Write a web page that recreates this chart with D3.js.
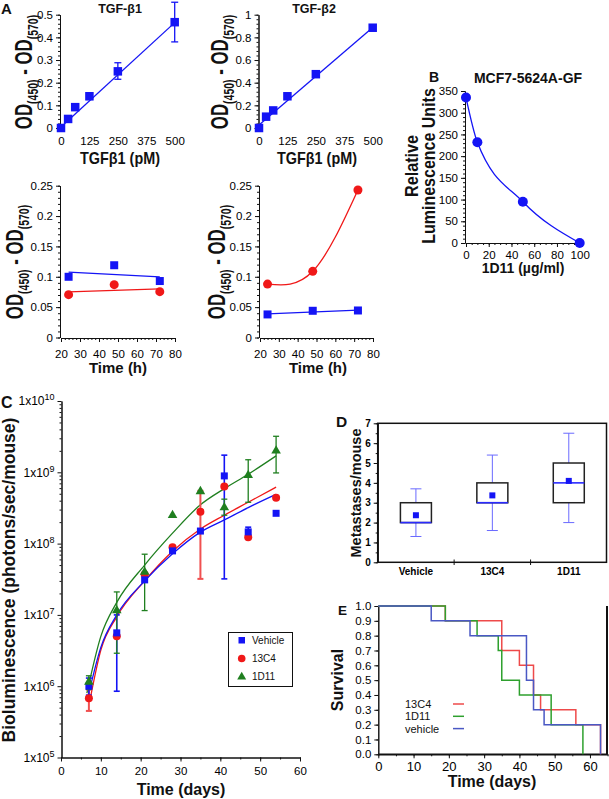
<!DOCTYPE html>
<html>
<head>
<meta charset="utf-8">
<script src="https://cdn.jsdelivr.net/npm/d3@7"></script>
<style>
body { margin: 0; background: #fff; }
text { font-family: "Liberation Sans", Arial, Helvetica, sans-serif; }
</style>
</head>
<body>
<div id="fig"></div>
<script>
// ---- panel A, standard curves
var tgfConc = [0, 31.25, 62.5, 125, 250, 500];
var tgfB1 = [0, 0.04, 0.092, 0.14, 0.25, 0.467];
var tgfB1Err = [[125, 0.126, 0.155], [250, 0.215, 0.288], [500, 0.38, 0.555]];
var tgfB1Fit = [[0, 0.004], [500, 0.465]];
var tgfB2 = [0, 0.1, 0.155, 0.28, 0.475, 0.885];
var tgfB2Fit = [[0, 0.026], [500, 0.888]];
var concTicks = [0, 125, 250, 375, 500];

// ---- panel A, time course (blue = squares, red = circles)
var hours = [24, 48, 72];
var leftBlue = [0.1, 0.119, 0.093];
var leftBlueFit = [[24, 0.1077], [72, 0.1]];
var leftRed = [0.0705, 0.087, 0.0755];
var leftRedFit = [[24, 0.075], [72, 0.08]];
var rightBlue = [0.038, 0.044, 0.0445];
var rightBlueFit = [[24, 0.039], [72, 0.045]];
var rightRed = [0.088, 0.109, 0.243];
var hourTicks = [20, 30, 40, 50, 60, 70, 80];
var odTicks = [0, 0.05, 0.1, 0.15, 0.2, 0.25];

// ---- panel B
var dose1D11 = [0, 10, 50, 100];
var rlu = [335, 232, 95, 0];

// ---- panel C
var days = [7, 14, 21, 28, 35, 41, 47, 54];
var vehicleBL = [1.0e6, 5.6e6, 3.1e7, 7.9e7, 1.5e8, 8.9e8, 1.46e8, 2.66e8];
var c13C4BL = [6.8e5, 5.0e6, 3.7e7, 8.9e7, 2.8e8, 6.3e8, 1.23e8, 4.4e8];
var d1D11BL = [1.15e6, 1.15e7, 4.0e7, 2.5e8, 5.4e8, 3.2e8, 9.1e8, 2.0e9];
var vehicleErr = [[7, 7.5e5, 1.3e6], [14, 8.5e5, 1.0e7], [41, 3.2e7, 1.74e9], [47, 1.3e8, 1.7e8]];
var c13C4Err = [[7, 4.5e5, 9e5], [35, 3.2e7, 5.5e8]];
var d1D11Err = [[7, 9e5, 1.4e6], [14, 2.9e6, 2.1e7], [21, 1.15e7, 7.1e7], [41, 2.5e8, 4.2e8], [47, 3.8e8, 1.5e9], [54, 9.8e8, 3.2e9]];
var vehicleFit = [[7, 8e5], [10, 3.5e6], [14, 1.0e7], [21, 3.0e7], [28, 7.2e7], [35, 1.45e8], [41, 2.15e8], [47, 3.2e8], [54, 4.9e8]];
var c13C4Fit = [[7.3, 6.5e5], [10, 3.2e6], [14, 9.4e6], [21, 3.0e7], [28, 7.8e7], [35, 1.6e8], [41, 2.5e8], [47, 3.8e8], [54, 6.2e8]];
var d1D11Fit = [[6.5, 8e5], [10, 5e6], [14, 1.5e7], [21, 5.0e7], [28, 1.4e8], [35, 3.5e8], [41, 5.9e8], [47, 9.4e8], [54, 1.7e9]];
var decadeTicks = [1e5, 1e6, 1e7, 1e8, 1e9, 1e10];

// ---- panel D
var groups = ["Vehicle", "13C4", "1D11"];
var whiskLow = [1.3, 1.6, 2];
var whiskHigh = [3.7, 5.4, 6.5];
var boxLow = [2, 3, 3];
var boxHigh = [3, 4, 5];
var medians = [2, 3, 4];
var means = [2.37, 3.37, 4.1];

// ---- panel E (day, survival)
var survVehicle = [[0, 1], [15, 0.9], [26, 0.8], [42, 0.5], [44, 0.3], [47, 0.2], [63, 0]];
var surv13C4 = [[0, 1], [19, 0.9], [35, 0.7], [40, 0.6], [44, 0.4], [46, 0.3], [56, 0.2], [63, 0]];
var surv1D11 = [[0, 1], [19, 0.9], [28, 0.8], [34, 0.7], [35, 0.5], [40, 0.4], [49, 0.2], [58, 0]];
var survLegend = ["13C4", "1D11", "vehicle"];

var BLUE = "#1414f5", RED = "#f01818", GREEN = "#1f7f1f";

var svg = d3.select("#fig").append("svg")
    .attr("width", 609)
    .attr("height", 799);

function styleAxis(g, size, bold) {
    g.attr("font-family", "'Liberation Sans', Arial, sans-serif")
     .attr("font-size", size)
     .attr("font-weight", bold ? "bold" : "normal");
    g.selectAll("path, line").attr("stroke", "#111");
}

// y axis with small minor ticks
function yAxis(x0, y, major, minor, fmt, size, bold) {
    svg.append("g").attr("transform", "translate(" + x0 + ",0)")
        .call(d3.axisLeft(y).tickValues(minor).tickSize(2).tickSizeOuter(0).tickFormat(""))
        .call(styleAxis, size);
    var g = svg.append("g").attr("transform", "translate(" + x0 + ",0)")
        .call(d3.axisLeft(y).tickValues(major).tickSize(4).tickSizeOuter(0).tickFormat(fmt).tickPadding(3));
    styleAxis(g, size, bold);
    return g;
}

function xAxis(y0, x, major, minor, pad, size, showLine) {
    if (minor) {
        svg.append("g").attr("transform", "translate(0," + y0 + ")")
            .call(d3.axisBottom(x).tickValues(minor).tickSize(2).tickSizeOuter(0).tickFormat(""))
            .call(styleAxis, size);
    }
    var g = svg.append("g").attr("transform", "translate(0," + y0 + ")")
        .call(d3.axisBottom(x).tickValues(major).tickSize(showLine ? 4 : 0).tickSizeOuter(0).tickPadding(pad));
    styleAxis(g, size);
    if (!showLine) g.select(".domain").remove();
    return g;
}

function txt(x, y, s, size, opts) {
    opts = opts || {};
    var t = svg.append("text")
        .attr("transform", "translate(" + x + "," + y + ")" + (opts.rot ? " rotate(-90)" : "") + (opts.sx ? " scale(" + opts.sx + ",1)" : ""))
        .attr("text-anchor", opts.anchor || "middle")
        .attr("font-size", size)
        .attr("font-weight", opts.normal ? "normal" : "bold")
        .attr("fill", "#111")
        .text(s);
    return t;
}

function odLabel(x, y) {
    var t = svg.append("text")
        .attr("transform", "translate(" + x + "," + y + ") rotate(-90) scale(0.7,1)")
        .attr("text-anchor", "middle")
        .attr("font-weight", "bold")
        .attr("font-size", 24)
        .attr("fill", "#111");
    t.append("tspan").text("OD");
    t.append("tspan").attr("font-size", 15).attr("dy", 6).text("(450)");
    t.append("tspan").attr("dy", -6).text(" - OD");
    t.append("tspan").attr("font-size", 15).attr("dy", 6).text("(570)");
}

function squares(xs, ys, x, y, size, color) {
    svg.append("g").selectAll("rect")
        .data(xs)
        .enter()
        .append("rect")
        .attr("x", function(d) { return x(d) - size / 2; })
        .attr("y", function(d, i) { return y(ys[i]) - size / 2; })
        .attr("width", size)
        .attr("height", size)
        .attr("fill", color);
}

function circles(xs, ys, x, y, r, color) {
    svg.append("g").selectAll("circle")
        .data(xs)
        .enter()
        .append("circle")
        .attr("cx", function(d) { return x(d); })
        .attr("cy", function(d, i) { return y(ys[i]); })
        .attr("r", r)
        .attr("fill", color);
}

function errBars(err, x, y, color, cap, w) {
    var g = svg.append("g").attr("stroke", color).attr("stroke-width", w || 1.3);
    err.forEach(function(e) {
        g.append("line").attr("x1", x(e[0])).attr("x2", x(e[0])).attr("y1", y(e[1])).attr("y2", y(e[2]));
        g.append("line").attr("x1", x(e[0]) - cap).attr("x2", x(e[0]) + cap).attr("y1", y(e[1])).attr("y2", y(e[1]));
        g.append("line").attr("x1", x(e[0]) - cap).attr("x2", x(e[0]) + cap).attr("y1", y(e[2])).attr("y2", y(e[2]));
    });
}

function path(pts, x, y, color, curve, w) {
    svg.append("path")
        .datum(pts)
        .attr("fill", "none")
        .attr("stroke", color)
        .attr("stroke-width", w || 1.3)
        .attr("d", d3.line().curve(curve || d3.curveLinear)
            .x(function(d) { return x(d[0]); })
            .y(function(d) { return y(d[1]); }));
}

// ================= A : standard curves =================
txt(1, 14, "A", 15, {anchor: "start"});

var xA1 = d3.scaleLinear().domain([0, 500]).range([61, 174.7]);
var yA1 = d3.scaleLinear().domain([0, 0.5]).range([128, 14.7]);
yAxis(60, yA1, [0, 0.1, 0.2, 0.3, 0.4, 0.5], d3.range(0, 0.501, 0.02), function(d) { return d === 0 ? "0" : d3.format(".1f")(d); }, 11.5);
svg.append("line").attr("x1", 60).attr("x2", 60).attr("y1", 128).attr("y2", 132).attr("stroke", "#111");
xAxis(137, xA1, concTicks, null, 0, 11.5, false);
path(tgfB1Fit, xA1, yA1, BLUE);
errBars(tgfB1Err, xA1, yA1, BLUE, 3.5);
squares(tgfConc, tgfB1, xA1, yA1, 8.5, BLUE);
txt(120, 13, "TGF-\u03b21", 12.5);
txt(120, 164, "TGF\u03b21 (pM)", 16, {sx: 0.9});
odLabel(32, 72);

var xA2 = d3.scaleLinear().domain([0, 500]).range([259, 372.7]);
var yA2 = d3.scaleLinear().domain([0, 1]).range([128, 14.7]);
yAxis(258.5, yA2, [0, 0.2, 0.4, 0.6, 0.8, 1], d3.range(0, 1.001, 0.04), function(d) { return d === 0 || d === 1 ? d3.format("d")(d) : d3.format(".1f")(d); }, 11.5);
svg.append("line").attr("x1", 258.5).attr("x2", 258.5).attr("y1", 128).attr("y2", 132).attr("stroke", "#111");
xAxis(137, xA2, concTicks, null, 0, 11.5, false);
path(tgfB2Fit, xA2, yA2, BLUE);
squares(tgfConc, tgfB2, xA2, yA2, 8.5, BLUE);
txt(314, 13, "TGF-\u03b22", 12.5);
txt(317, 164, "TGF\u03b21 (pM)", 16, {sx: 0.9});
odLabel(228, 72);

// ================= A : time course =================
function fmtOD(d) { return d === 0 ? "0" : String(d); }

var xA3 = d3.scaleLinear().domain([20, 80]).range([61, 175]);
var yA3 = d3.scaleLinear().domain([0, 0.25]).range([337.5, 185.7]);
yAxis(60, yA3, odTicks, d3.range(0, 0.2501, 0.01), fmtOD, 11.5);
xAxis(338, xA3, hourTicks, d3.range(20, 80.1, 2), 8, 11.5, true);
path(leftBlueFit, xA3, yA3, BLUE);
path(leftRedFit, xA3, yA3, RED);
squares(hours, leftBlue, xA3, yA3, 8, BLUE);
circles(hours, leftRed, xA3, yA3, 4.5, RED);
txt(118, 373, "Time (h)", 15);
odLabel(23, 262);

var xA4 = d3.scaleLinear().domain([20, 80]).range([260, 373]);
yAxis(259, yA3, odTicks, d3.range(0, 0.2501, 0.01), fmtOD, 11.5);
xAxis(338, xA4, hourTicks, d3.range(20, 80.1, 2), 8, 11.5, true);
path(rightBlueFit, xA4, yA3, BLUE);
path(hours.map(function(h, i) { return [h, rightRed[i]]; }), xA4, yA3, RED, d3.curveNatural);
squares(hours, rightBlue, xA4, yA3, 8, BLUE);
circles(hours, rightRed, xA4, yA3, 4.5, RED);
txt(318, 373, "Time (h)", 15);
odLabel(225, 262);

// ================= B =================
txt(429, 82, "B", 14, {anchor: "start"});
var xB = d3.scaleLinear().domain([0, 100]).range([466, 579.7]);
var yB = d3.scaleLinear().domain([0, 350]).range([243, 91]);
yAxis(465, yB, d3.range(0, 351, 50), d3.range(0, 351, 10), d3.format("d"), 11.5);
xAxis(243, xB, [0, 20, 40, 60, 80, 100], d3.range(0, 101, 5), 4, 11.5, true);
path(dose1D11.map(function(d, i) { return [d, rlu[i]]; }), xB, yB, BLUE, d3.curveMonotoneX);
circles(dose1D11, rlu, xB, yB, 5, BLUE);
txt(528, 83, "MCF7-5624A-GF", 14);
txt(418, 166, "Relative", 18, {rot: true, sx: 0.9});
txt(435, 166, "Luminescence Units", 18, {rot: true, sx: 0.89});
txt(523, 273, "1D11 (\u00b5g/ml)", 14);

// ================= C =================
txt(1, 408, "C", 16, {anchor: "start"});
var xC = d3.scaleLinear().domain([0, 60]).range([61, 300]);
var yC = d3.scaleLog().domain([1e5, 1e10]).range([757.5, 401]);
var minorC = [];
decadeTicks.slice(0, 5).forEach(function(p) { for (var k = 2; k <= 9; k++) minorC.push(p * k); });
var gyC = yAxis(61.5, yC, decadeTicks, minorC, function() { return ""; }, 12);
gyC.selectAll(".tick text").each(function(d) {
    var t = d3.select(this).text("1x10");
    t.append("tspan").attr("dy", -5).attr("font-size", 9).text(Math.round(Math.log10(d)));
});
xAxis(757.5, xC, d3.range(0, 61, 10), d3.range(0, 61, 5), 5, 11.5, true);
path(d1D11Fit, xC, yC, GREEN, d3.curveMonotoneX);
path(c13C4Fit, xC, yC, RED, d3.curveMonotoneX);
path(vehicleFit, xC, yC, BLUE, d3.curveMonotoneX);
errBars(c13C4Err, xC, yC, "#f05050", 3, 2);
errBars(vehicleErr, xC, yC, BLUE, 3, 1.6);
errBars(d1D11Err, xC, yC, GREEN, 3, 1.3);
circles(days, c13C4BL, xC, yC, 4, RED);
squares(days, vehicleBL, xC, yC, 7, BLUE);
svg.append("g").selectAll("path")
    .data(days)
    .enter()
    .append("path")
    .attr("transform", function(d, i) { return "translate(" + xC(d) + "," + yC(d1D11BL[i]) + ")"; })
    .attr("d", d3.symbol().type(d3.symbolTriangle).size(40))
    .attr("fill", GREEN);
txt(15, 580, "Bioluminescence (photons/sec/mouse)", 17.5, {rot: true});
txt(181, 795, "Time (days)", 16);

// legend C
svg.append("rect").attr("x", 228.5).attr("y", 632.5).attr("width", 64).attr("height", 54)
    .attr("fill", "#fff").attr("stroke", "#111").attr("stroke-width", 1);
svg.append("rect").attr("x", 238.5).attr("y", 637).attr("width", 6.5).attr("height", 6.5).attr("fill", BLUE);
svg.append("circle").attr("cx", 241.7).attr("cy", 658.5).attr("r", 3.8).attr("fill", RED);
svg.append("path").attr("transform", "translate(241.7,677)").attr("d", d3.symbol().type(d3.symbolTriangle).size(35)).attr("fill", GREEN);
txt(252, 644, "Vehicle", 10, {anchor: "start", normal: true});
txt(252, 662, "13C4", 10, {anchor: "start", normal: true});
txt(252, 680, "1D11", 10, {anchor: "start", normal: true});

// ================= D =================
txt(336, 427, "D", 15.5, {anchor: "start"});
var xD = d3.scaleBand().domain(groups).range([377.7, 607]);
var yD = d3.scaleLinear().domain([0, 7]).range([562.3, 423.3]);
yAxis(377.7, yD, d3.range(0, 8, 1), d3.range(0, 7.01, 0.5), d3.format("d"), 10, true);
var gxD = svg.append("g").attr("transform", "translate(0,562.3)")
    .call(d3.axisBottom(xD).tickSize(0).tickPadding(6));
styleAxis(gxD, 10, true);
gxD.select(".domain").remove();
svg.append("g").selectAll("line")
    .data(groups.slice(1))
    .enter()
    .append("line")
    .attr("x1", function(d) { return xD(d); })
    .attr("x2", function(d) { return xD(d); })
    .attr("y1", 559.5).attr("y2", 565)
    .attr("stroke", "#111");
svg.append("rect").attr("x", 377.7).attr("y", 423.3).attr("width", 228.8).attr("height", 139)
    .attr("fill", "none").attr("stroke", "#111").attr("stroke-width", 1.5);
groups.forEach(function(gname, i) {
    var cx = xD(gname) + xD.bandwidth() / 2;
    var g = svg.append("g");
    g.append("line").attr("x1", cx).attr("x2", cx).attr("y1", yD(whiskLow[i])).attr("y2", yD(boxLow[i])).attr("stroke", "#6a6aff");
    g.append("line").attr("x1", cx).attr("x2", cx).attr("y1", yD(boxHigh[i])).attr("y2", yD(whiskHigh[i])).attr("stroke", "#6a6aff");
    g.append("line").attr("x1", cx - 5.5).attr("x2", cx + 5.5).attr("y1", yD(whiskLow[i])).attr("y2", yD(whiskLow[i])).attr("stroke", "#6a6aff");
    g.append("line").attr("x1", cx - 5.5).attr("x2", cx + 5.5).attr("y1", yD(whiskHigh[i])).attr("y2", yD(whiskHigh[i])).attr("stroke", "#6a6aff");
    g.append("rect").attr("x", cx - 15.5).attr("y", yD(boxHigh[i])).attr("width", 31)
        .attr("height", yD(boxLow[i]) - yD(boxHigh[i]))
        .attr("fill", "#fff").attr("stroke", "#222").attr("stroke-width", 1.5);
    g.append("line").attr("x1", cx - 15.5).attr("x2", cx + 15.5).attr("y1", yD(medians[i])).attr("y2", yD(medians[i]))
        .attr("stroke", "#2a2aff").attr("stroke-width", 1.6);
    g.append("rect").attr("x", cx - 3).attr("y", yD(means[i]) - 3).attr("width", 6).attr("height", 6).attr("fill", BLUE);
});
txt(361, 493, "Metastases/mouse", 14.5, {rot: true});

// ================= E =================
txt(338, 615, "E", 13.5, {anchor: "start"});
var xE = d3.scaleLinear().domain([0, 65]).range([378.3, 607.6]);
var yE = d3.scaleLinear().domain([0, 1]).range([754.3, 606]);
yAxis(378.3, yE, d3.range(0, 1.01, 0.1), d3.range(0, 1.01, 0.1), d3.format(".1f"), 11.5);
xAxis(754.3, xE, d3.range(0, 61, 10), d3.range(0, 66, 5), 3, 13, true);
svg.append("line").attr("x1", 607).attr("x2", 607).attr("y1", 606).attr("y2", 754.3).attr("stroke", "#111").attr("stroke-width", 2);
svg.append("line").attr("x1", 378.3).attr("x2", 607).attr("y1", 754.3).attr("y2", 754.3).attr("stroke", "#111").attr("stroke-width", 1.5);
path(surv13C4, xE, yE, "#ee4a4a", d3.curveStepAfter, 1.5);
path(surv1D11, xE, yE, "#2ea02e", d3.curveStepAfter, 1.5);
path(survVehicle, xE, yE, "#4a58c4", d3.curveStepAfter, 1.5);
var legColors = ["#ee4a4a", "#2ea02e", "#4a58c4"];
survLegend.forEach(function(s, i) {
    var ly = 704 + i * 12.3;
    txt(405, ly + 4, s, 11, {anchor: "start", normal: true});
    svg.append("line").attr("x1", 453).attr("x2", 464).attr("y1", ly).attr("y2", ly).attr("stroke", legColors[i]).attr("stroke-width", 1.5);
});
txt(343, 680, "Survival", 16, {rot: true});
txt(492, 787, "Time (days)", 16);
</script>
</body>
</html>
